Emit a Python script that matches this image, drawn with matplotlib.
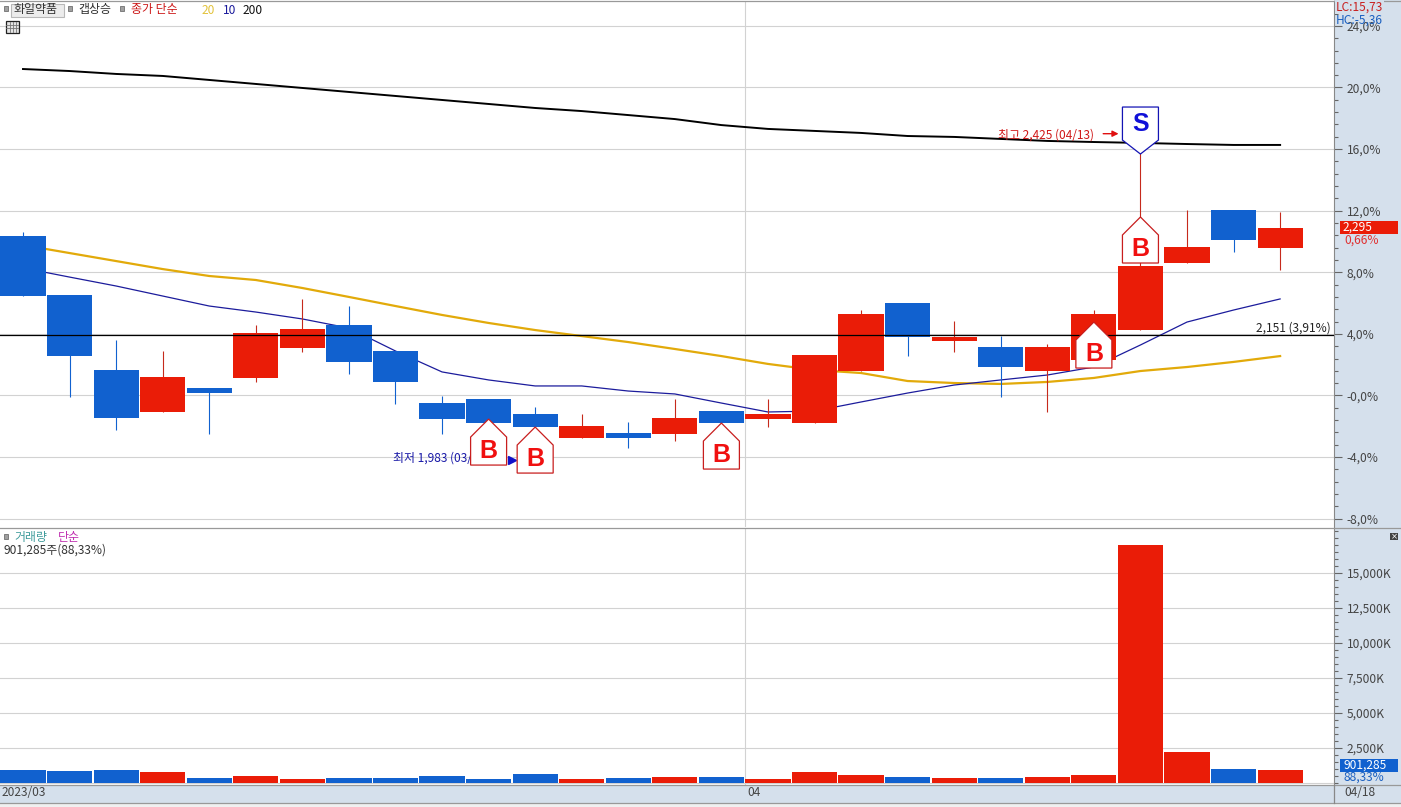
import matplotlib
matplotlib.use("Agg")
import matplotlib.pyplot as plt
from matplotlib.patches import Rectangle, Polygon
from matplotlib.ticker import MultipleLocator, FixedLocator, FuncFormatter
import numpy as np

plt.rcParams['font.family'] = ['Noto Sans CJK KR', 'DejaVu Sans']

W, H = 1401, 807
# Daily data (values in % from the base price)
opens  = [10.36, 6.53, 1.66, -1.07, 0.49, 1.14, 3.08, 4.58, 2.89, -0.49, -0.23, -1.20, -2.76, -2.44, -2.50, -1.01,
          -1.53, -1.79, 1.59, 6.01, 3.54, 3.15, 1.59, 2.31, 4.25, 8.60, 12.05, 9.58]
closes = [6.46, 2.56, -1.46, 1.20, 0.16, 4.06, 4.32, 2.18, 0.88, -1.53, -1.79, -2.05, -1.98, -2.76, -1.46, -1.79,
          -1.20, 2.63, 5.29, 3.80, 3.80, 1.85, 3.15, 5.29, 8.41, 9.64, 10.10, 10.88]
highs  = [10.62, 6.53, 3.60, 2.89, 0.49, 4.58, 6.27, 5.81, 2.89, -0.03, -0.23, -0.75, -1.20, -1.72, -0.23, -1.01,
          -0.23, 2.63, 5.55, 6.01, 4.84, 3.86, 3.34, 5.55, 17.11, 12.05, 12.05, 11.92]
lows   = [6.46, -0.10, -2.24, -1.07, -2.50, 0.88, 2.82, 1.40, -0.55, -2.50, -2.89, -4.19, -2.76, -3.41, -2.95, -1.79,
          -2.05, -1.79, 1.59, 2.56, 2.82, -0.10, -1.07, 2.31, 4.25, 8.60, 9.32, 8.15]
ma200 = [21.2, 21.07, 20.88, 20.75, 20.49, 20.23, 19.97, 19.71, 19.45, 19.19, 18.93, 18.67, 18.47, 18.21, 17.95, 17.56,
         17.31, 17.18, 17.05, 16.85, 16.79, 16.66, 16.53, 16.46, 16.40, 16.33, 16.27, 16.27]
ma20 = [9.77, 9.25, 8.73, 8.21, 7.76, 7.5, 6.98, 6.4, 5.81, 5.23, 4.71, 4.25, 3.86, 3.47, 3.02, 2.56, 2.05, 1.66, 1.46,
        0.94, 0.81, 0.75, 0.88, 1.14, 1.59, 1.85, 2.18, 2.56]
ma10 = [8.28, 7.69, 7.11, 6.46, 5.81, 5.42, 4.97, 4.38, 2.89, 1.53, 1.01, 0.62, 0.62, 0.29, 0.10, -0.49, -1.07, -1.01,
        -0.42, 0.16, 0.68, 1.01, 1.33, 1.85, 3.28, 4.77, 5.55, 6.27]
volume = [930, 860, 930, 790, 360, 500, 290, 360, 360, 500, 290, 640, 290, 360, 430, 430, 290, 790, 570, 430, 360,
          360, 430, 570, 17000, 2210, 1000, 901.285]
buy_idx = [10, 11, 15, 23, 24]
buy_tip = [-1.53, -2.05, -1.79, 4.77, 11.59]
sell_idx = 24
sell_tip = 15.68
ref_price = 3.91
month_start = 15.5

RED, BLUE = '#ea1c07', '#1161cf'
RW, BW = '#c62a1c', '#1161cf'
GRID = '#d2d2d2'
PANEL = '#d5e0ec'
XS = 46.56   # px per candle
YS = 15.4    # px per %

fig = plt.figure(figsize=(W/100, H/100), dpi=100, facecolor='white')

def box(x0, y0, x1, y1):
    return [x0/W, 1-y1/H, (x1-x0)/W, (y1-y0)/H]

def ftext(x, y, s, **k):
    k.setdefault('fontsize', 8.6)
    k.setdefault('va', 'center')
    fig.text(x/W, 1-y/H, s, **k)

def frect(x0, y0, x1, y1, **k):
    k.setdefault('zorder', 2)
    fig.add_artist(Rectangle((x0/W, 1-y1/H), (x1-x0)/W, (y1-y0)/H, transform=fig.transFigure, **k))

frect(1334, 0, W, 803, fc=PANEL, ec='none', zorder=-2)
frect(0, 785, W, 803, fc=PANEL, ec='none', zorder=-2)
frect(0, 803, W, H, fc='#f0f0f0', ec='none', zorder=-2)

ax = fig.add_axes(box(0, 1, 1334, 527))
av = fig.add_axes(box(0, 529, 1334, 785))
ax.patch.set_alpha(1)
xlim = (-23/XS, (1334-23)/XS)
n = len(opens)
xs = np.arange(n)

def tick_style(a):
    a.yaxis.tick_right()
    a.tick_params(axis='y', which='major', length=6, width=0.8, color='#666666', labelcolor='#444444',
                  labelsize=8.6, pad=3)
    a.tick_params(axis='y', which='minor', length=3, width=0.8, color='#666666')
    a.set_xticks([])
    a.grid(axis='y', which='major', color=GRID, lw=0.8, zorder=0)
    a.axvline(month_start, color=GRID, lw=0.8, zorder=0)
    for s in ['top', 'left', 'bottom']:
        a.spines[s].set_visible(False)
    a.spines['right'].set_color('#888888')

# ---------- price pane
ax.set_xlim(*xlim)
ax.set_ylim((395.5-527)/YS, (395.5-1)/YS)
ax.yaxis.set_major_locator(MultipleLocator(4))
ax.yaxis.set_minor_locator(MultipleLocator(0.8))
ax.yaxis.set_major_formatter(FuncFormatter(lambda v, p: ('-0,0%' if abs(v) < 1e-9 else f'{v:.1f}%'.replace('.', ','))))
tick_style(ax)

ups = [c >= o for o, c in zip(opens, closes)]
ax.plot(xs, ma200, color='black', lw=1.4, zorder=2)
ax.plot(xs, ma20, color='#e2aa0a', lw=1.6, zorder=2)
ax.plot(xs, ma10, color='#1c1c9c', lw=0.9, zorder=2)
for i in range(n):
    wc = RW if ups[i] else BW
    bc = RED if ups[i] else BLUE
    ax.plot([xs[i], xs[i]], [lows[i], highs[i]], color=wc, lw=0.8, zorder=3, solid_capstyle='butt')
    ax.bar(xs[i], abs(closes[i]-opens[i]), bottom=min(opens[i], closes[i]), width=0.97, color=bc, lw=0, zorder=3)

ax.axhline(ref_price, color='black', lw=0.9, zorder=4)
ax.text((1331-23)/XS, ref_price+0.48, '2,151 (3,91%)', ha='right', va='center', fontsize=8.6, color='#222222', zorder=5)

# price-extreme labels
ax.text(7.95, -4.07, '최저 1,983 (03/27)', color='#1a1aa8', fontsize=8.6, va='center', ha='left', zorder=5)
ax.plot([10.5], [-4.19], marker='>', color='#1010c8', ms=6, zorder=5)
ax.text(20.95, 16.9, '최고 2,425 (04/13)', color='#d01818', fontsize=8.6, va='center', ha='left', zorder=5)
ax.annotate('', xy=(23.53, 17.0), xytext=(23.2, 17.0), zorder=5,
            arrowprops=dict(arrowstyle='-|>', color='#e01010', lw=1, mutation_scale=9, shrinkA=0, shrinkB=0))

HW = 18/XS
def signal(x, tip, sign, ec, tc, label, shoulder=18, total=46):
    # sign=+1: point on top (buy); sign=-1: point at bottom (sell)
    d = -sign/YS
    pts = [(x, tip), (x+HW, tip+d*shoulder), (x+HW, tip+d*total), (x-HW, tip+d*total), (x-HW, tip+d*shoulder)]
    ax.add_patch(Polygon(pts, closed=True, fc='white', ec=ec, lw=0.9, zorder=6))
    ax.text(x, tip+d*(shoulder+total)/2, label, color=tc, fontsize=18, fontweight='bold',
            family='Liberation Sans', ha='center', va='center', zorder=7)

for i, t in zip(buy_idx, buy_tip):
    signal(i, t, 1, '#c81e1e', '#f01010', 'B')
signal(sell_idx, sell_tip, -1, '#1414b4', '#1010d8', 'S', shoulder=14, total=47)

# ---------- volume pane
av.set_xlim(*xlim)
VS = 2500/35
av.set_ylim(-2*VS, (783-529)*VS)
av.yaxis.set_major_locator(FixedLocator(np.arange(2500, 15001, 2500)))
av.yaxis.set_minor_locator(MultipleLocator(500))
av.yaxis.set_major_formatter(FuncFormatter(lambda v, p: f'{int(v):,}K'))
tick_style(av)
av.axhline(0, color=GRID, lw=0.8, zorder=0)
av.bar(xs, volume, width=0.97, color=[RED if u else BLUE for u in ups], lw=0, zorder=3)

# ---------- frame lines
for y in (0.5, 527.5, 785, 803):
    fig.add_artist(plt.Line2D([0, 1], [1-y/H, 1-y/H], color='#999999', lw=0.9))
fig.add_artist(plt.Line2D([1334/W, 1334/W], [1-803/H, 1-785/H], color='#888888', lw=0.9))

# ---------- header legend
frect(10.5, 3.5, 63.5, 16.5, fc='#ececec', ec='#b8b8b8', lw=0.8)
for x in (3.5, 67.5, 119.5):
    frect(x, 6, x+4.5, 11, fc='#a0a0a0', ec='#707070', lw=0.6)
ftext(14, 10, '화일약품', color='#333333')
ftext(78, 10, '갭상승', color='#333333')
ftext(131, 10, '종가 단순', color='#cc1818')
ftext(202, 10, '20', color='#e2c23a')
ftext(223, 10, '10', color='#1a1a9c')
ftext(243, 10, '200', color='#111111')
# table icon
frect(5.5, 20.5, 18.5, 33, fc='#e4e4e4', ec='#222222', lw=0.9)
for gx in (9.5, 12.5, 15.5):
    fig.add_artist(plt.Line2D([gx/W, gx/W], [1-32/H, 1-22/H], color='#777777', lw=0.6, zorder=3))
for gy in (24.5, 28):
    fig.add_artist(plt.Line2D([6/W, 18/W], [1-gy/H, 1-gy/H], color='#777777', lw=0.6, zorder=3))
ftext(1336, 7, 'LC:15,73', color='#c82020', zorder=5, bbox=dict(fc=PANEL, ec='none', pad=0.5))
ftext(1336, 20, 'HC:-5,36', color='#1a5fc0', zorder=6)

# volume legend
frect(3.5, 534, 8, 539, fc='#a0a0a0', ec='#707070', lw=0.6)
ftext(14, 537, '거래량', color='#3f9c9c')
ftext(58, 537, '단순', color='#c030b0')
ftext(4, 550, '901,285주(88,33%)', color='#333333')
frect(1390, 533, 1398, 540, fc='#444444', ec='none')
ftext(1394, 536.3, '×', color='white', fontsize=6, ha='center', family='DejaVu Sans')

# ---------- current-value tags
frect(1340, 221, 1398, 234, fc=RED, ec='none')
ftext(1343, 227.5, '2,295', color='white')
ftext(1344, 240, '0,66%', color='#e03030')
frect(1340, 759, 1398, 772, fc=BLUE, ec='none')
ftext(1343, 765, '901,285', color='white')
ftext(1344, 777, '88,33%', color='#1a5fc0')

# ---------- date strip
ftext(2, 793, '2023/03', color='#444444')
ftext(747, 793, '04', color='#444444')
ftext(1344, 793, '04/18', color='#444444')

fig.savefig('out.png', dpi=100)
